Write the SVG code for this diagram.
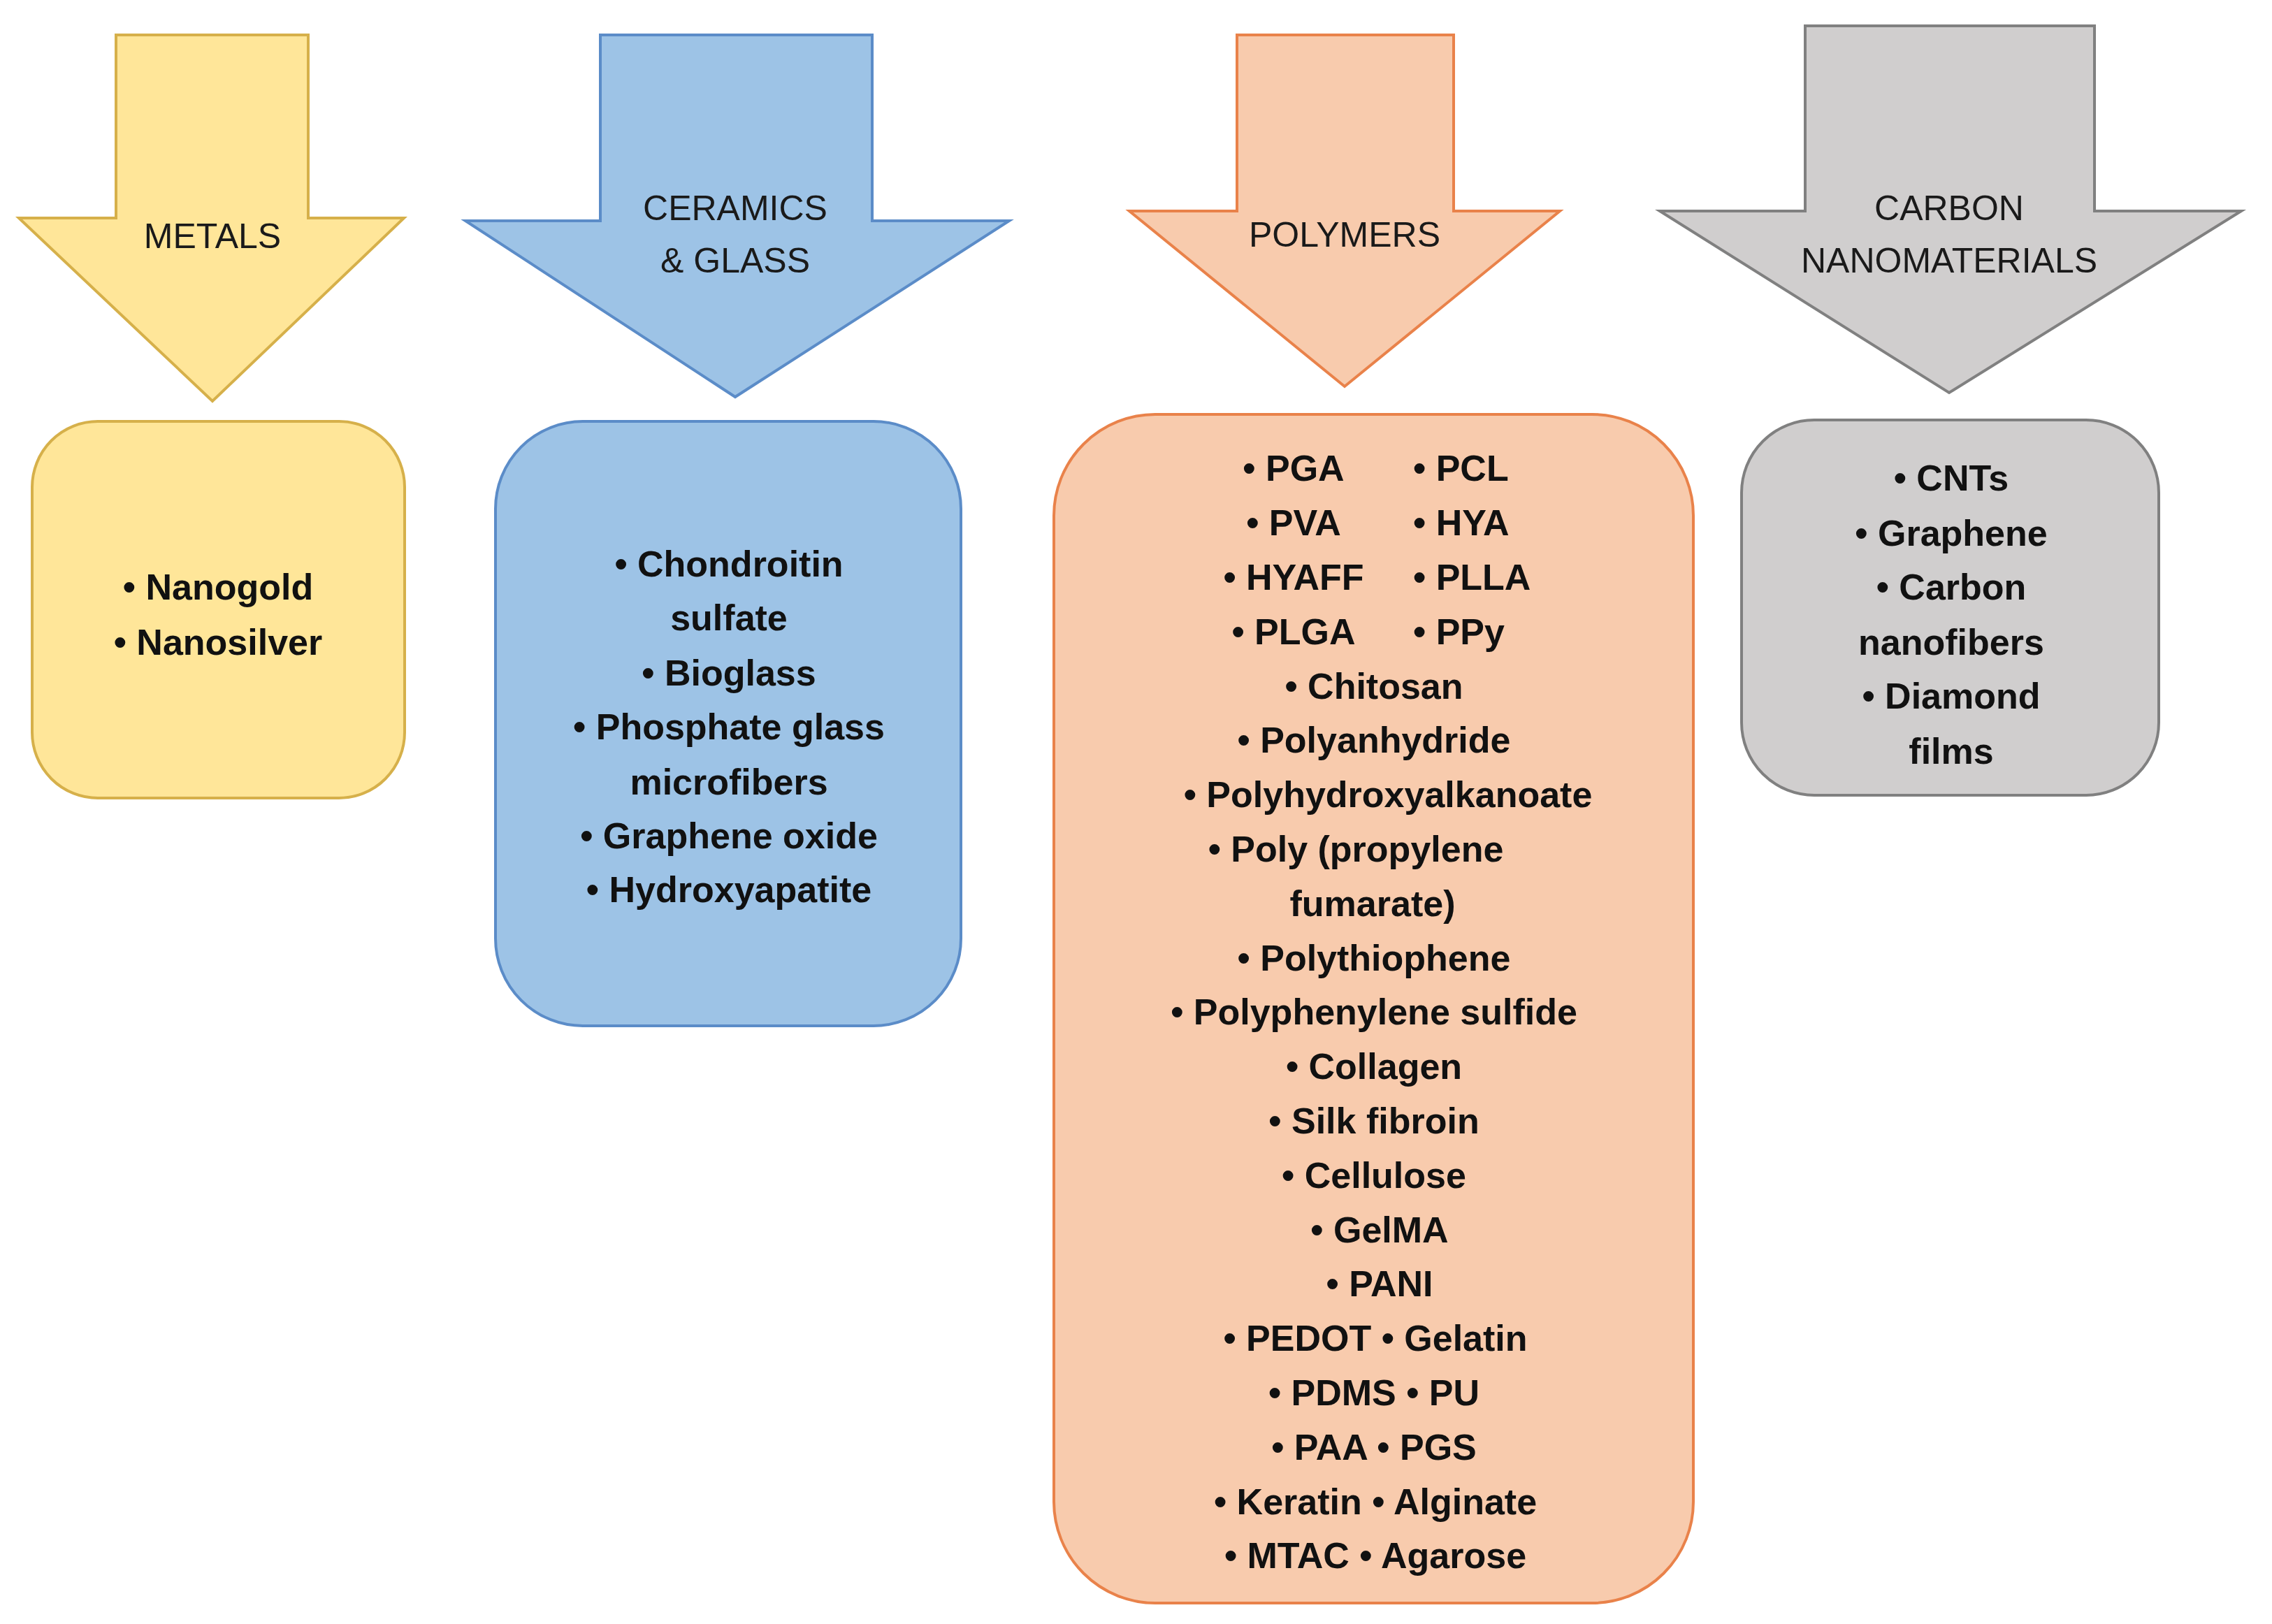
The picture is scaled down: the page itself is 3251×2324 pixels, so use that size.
<svg xmlns="http://www.w3.org/2000/svg" width="3251" height="2324" viewBox="0 0 3251 2324">
<style>
.h{font-family:"Liberation Sans",Arial,sans-serif;font-size:50px;fill:#1a1a1a;text-anchor:middle}
.t{font-family:"Liberation Sans",Arial,sans-serif;font-size:52px;font-weight:bold;fill:#111;text-anchor:middle}
.s{stroke-width:4}
.y{fill:#FFE699;stroke:#D6B04A}
.b{fill:#9DC3E6;stroke:#5B8CC8}
.o{fill:#F8CBAD;stroke:#E9824A}
.g{fill:#D0CECE;stroke:#808080}
</style>
<rect width="3251" height="2324" fill="#fff"/>
<g id="metals">
<polygon class="y s" points="166,50 441,50 441,312 578,312 304,574 27,312 166,312"/>
<text class="h" x="304" y="355">METALS</text>
<rect class="y s" x="46" y="603" width="533" height="539" rx="94"/>
<text class="t" x="312" y="858">• Nanogold</text>
<text class="t" x="312" y="937">• Nanosilver</text>
</g>
<g id="ceramics">
<polygon class="b s" points="859,50 1248,50 1248,316 1444,316 1052,568 666,316 859,316"/>
<text class="h" x="1052" y="315">CERAMICS</text>
<text class="h" x="1052" y="390">&amp; GLASS</text>
<rect class="b s" x="709" y="603" width="666" height="865" rx="125"/>
<text class="t" x="1043" y="825">• Chondroitin</text>
<text class="t" x="1043" y="902">sulfate</text>
<text class="t" x="1043" y="981">• Bioglass</text>
<text class="t" x="1043" y="1058">• Phosphate glass</text>
<text class="t" x="1043" y="1137">microfibers</text>
<text class="t" x="1043" y="1214">• Graphene oxide</text>
<text class="t" x="1043" y="1291">• Hydroxyapatite</text>
</g>
<g id="polymers">
<polygon class="o s" points="1770,50 2080,50 2080,302 2232,302 1924,553 1616,302 1770,302"/>
<text class="h" x="1924" y="353">POLYMERS</text>
<rect class="o s" x="1508" y="593" width="915" height="1701" rx="145"/>
<g class="t">
<text class="t" x="1851" y="688">• PGA</text><text class="t" x="2022" y="688" style="text-anchor:start">• PCL</text>
<text class="t" x="1851" y="766">• PVA</text><text class="t" x="2022" y="766" style="text-anchor:start">• HYA</text>
<text class="t" x="1851" y="844">• HYAFF</text><text class="t" x="2022" y="844" style="text-anchor:start">• PLLA</text>
<text class="t" x="1851" y="922">• PLGA</text><text class="t" x="2022" y="922" style="text-anchor:start">• PPy</text>
<text class="t" x="1966" y="1000">• Chitosan</text>
<text class="t" x="1966" y="1077">• Polyanhydride</text>
<text class="t" x="1986" y="1155">• Polyhydroxyalkanoate</text>
<text class="t" x="1940" y="1233">• Poly (propylene</text>
<text class="t" x="1964" y="1311">fumarate)</text>
<text class="t" x="1966" y="1389">• Polythiophene</text>
<text class="t" x="1966" y="1466">• Polyphenylene sulfide</text>
<text class="t" x="1966" y="1544">• Collagen</text>
<text class="t" x="1966" y="1622">• Silk fibroin</text>
<text class="t" x="1966" y="1700">• Cellulose</text>
<text class="t" x="1974" y="1778">• GelMA</text>
<text class="t" x="1974" y="1855">• PANI</text>
<text class="t" x="1968" y="1933">• PEDOT  • Gelatin</text>
<text class="t" x="1966" y="2011">• PDMS  • PU</text>
<text class="t" x="1966" y="2089">• PAA  • PGS</text>
<text class="t" x="1968" y="2167">• Keratin  • Alginate</text>
<text class="t" x="1968" y="2244">• MTAC  • Agarose</text>
</g>
</g>
<g id="carbon">
<polygon class="g s" points="2583,37 2997,37 2997,302 3207,302 2789,562 2375,302 2583,302"/>
<text class="h" x="2789" y="315">CARBON</text>
<text class="h" x="2789" y="390">NANOMATERIALS</text>
<rect class="g s" x="2492" y="601" width="597" height="537" rx="104"/>
<text class="t" x="2792" y="702">• CNTs</text>
<text class="t" x="2792" y="781">• Graphene</text>
<text class="t" x="2792" y="858">• Carbon</text>
<text class="t" x="2792" y="937">nanofibers</text>
<text class="t" x="2792" y="1014">• Diamond</text>
<text class="t" x="2792" y="1093">films</text>
</g>
<g id="connectors"/>
</svg>
